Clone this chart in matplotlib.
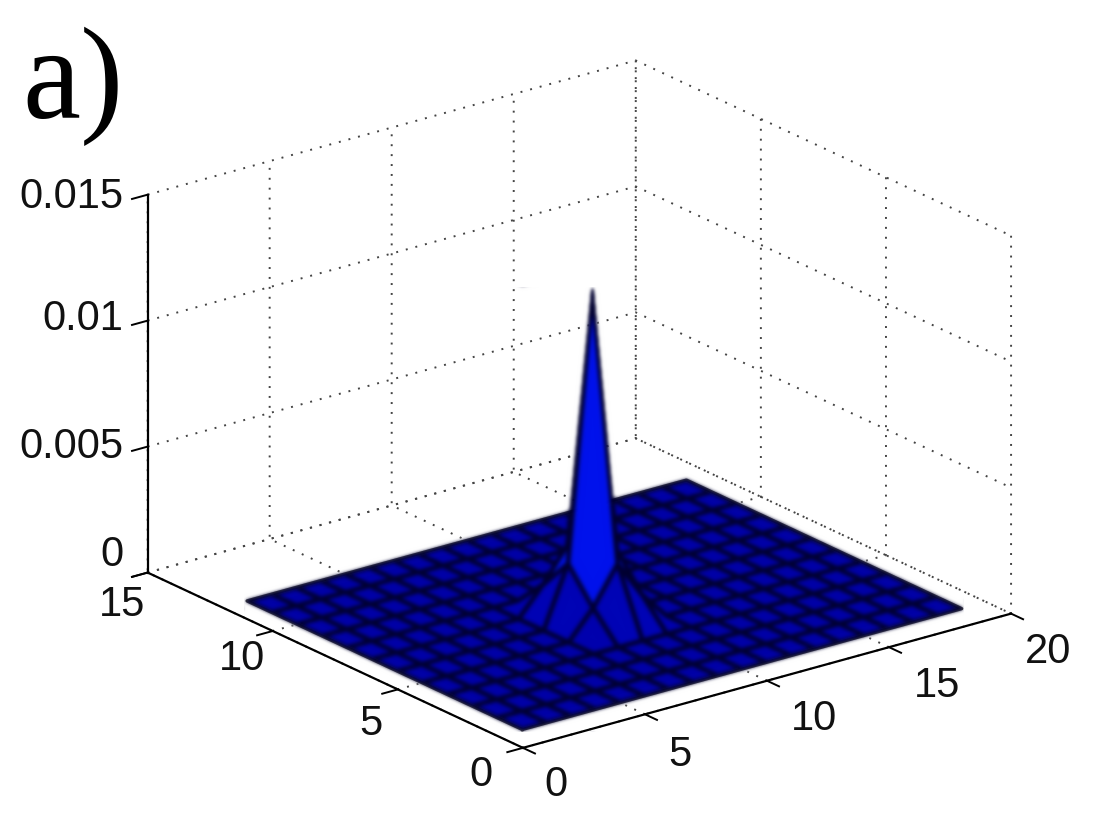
#!/usr/bin/env python3
import matplotlib
matplotlib.use("Agg")
import matplotlib.pyplot as plt
import numpy as np
from matplotlib.colors import LinearSegmentedColormap, Normalize
from mpl_toolkits.mplot3d import proj3d

# surface heights, rows are y = 1..12, columns are x = 1..19
x_vals = list(range(1, 20))
y_vals = list(range(1, 13))
z_row_flat = [0.0] * 19
z_row_5 = [0, 0, 0, 0, 0, 0, 0, 0.0011, 0.0026, 0.0011, 0, 0, 0, 0, 0, 0, 0, 0, 0]
z_row_6 = [0, 0, 0, 0, 0, 0, 0, 0.0024, 0.0130, 0.0024, 0, 0, 0, 0, 0, 0, 0, 0, 0]
z_row_7 = [0, 0, 0, 0, 0, 0, 0, 0.0011, 0.0024, 0.0011, 0, 0, 0, 0, 0, 0, 0, 0, 0]
z_rows = [z_row_flat, z_row_flat, z_row_flat, z_row_flat, z_row_5, z_row_6, z_row_7,
          z_row_flat, z_row_flat, z_row_flat, z_row_flat, z_row_flat]

x_ticks = [0, 5, 10, 15, 20]
y_ticks = [0, 5, 10, 15]
z_ticks = [0, 0.005, 0.01, 0.015]
z_tick_labels = ["0", "0.005", "0.01", "0.015"]

# pixel offsets of the tick labels from their ticks
x_label_shift = [(33, -37), (35, -41), (47, -38), (48, -39), (37, -38)]
y_label_shift = [(-42, -27), (-27, -35), (-31, -28), (-26, -32)]
z_label_shift = [(-24, 18), (-24, 0), (-24, 2), (-24, -2)]

plt.rcParams["font.family"] = ["Liberation Sans", "DejaVu Sans"]
plt.rcParams["grid.linestyle"] = (0, (1, 4.1))
plt.rcParams["grid.linewidth"] = 1.4
plt.rcParams["grid.color"] = "#444444"


def soften(image, dpi):
  # the reference is an upscaled bitmap, so smear the surface a little
  out = image
  for _ in range(4):
    out = (2 * out + np.roll(out, 1, 0) + np.roll(out, -1, 0)) / 4
    out = (2 * out + np.roll(out, 1, 1) + np.roll(out, -1, 1)) / 4
  return out, 0, 0


def tick_label(ax, x, y, z, text, shift, ha="center"):
  px, py, _ = proj3d.proj_transform(x, y, z, ax.get_proj())
  ax.annotate(text, xy=(px, py), xytext=shift, textcoords="offset pixels",
              ha=ha, va="center", fontsize=30, color="#111111", annotation_clip=False)


def main():
  fig = plt.figure(figsize=(11.2, 8.4), dpi=100)
  ax = fig.add_axes([8 / 1120, 4.5 / 840, 1.0, 1.0], projection="3d", proj_type="ortho",
                    computed_zorder=False)
  ax.view_init(elev=21, azim=-127.5)
  ax.set_box_aspect((0.988, 0.99, 0.65), zoom=1.11)

  X, Y = np.meshgrid(x_vals, y_vals)
  Z = np.asarray(z_rows)
  # colour each facet by its highest corner
  top = Z.copy()
  top[:-1, :-1] = np.max([Z[:-1, :-1], Z[1:, :-1], Z[:-1, 1:], Z[1:, 1:]], axis=0)
  cmap = LinearSegmentedColormap.from_list("floor", ["#0000a8", "#0012ec"])
  colors = cmap(Normalize(0, 0.013, clip=True)(top))

  # dark rim of the sheet, under the surface so the spike hides its back edge
  rim_x = [x_vals[0], x_vals[-1], x_vals[-1], x_vals[0], x_vals[0]]
  rim_y = [y_vals[0], y_vals[0], y_vals[-1], y_vals[-1], y_vals[0]]
  ax.plot(rim_x, rim_y, [0] * 5, color="black", linewidth=2.4, zorder=2)

  surf = ax.plot_surface(X, Y, Z, rstride=1, cstride=1, facecolors=colors, shade=False,
                         edgecolor="#000030", linewidth=3.2, antialiased=True, zorder=3)
  surf.set_clip_on(False)
  surf.set_agg_filter(soften)

  ax.set_xlim(0, 20, view_margin=0)
  ax.set_ylim(0, 15, view_margin=0)
  ax.set_zlim(0, 0.015, view_margin=0)
  ax.set_xticks(x_ticks)
  ax.set_yticks(y_ticks)
  ax.set_zticks(z_ticks)
  ax.set_xticklabels([])
  ax.set_yticklabels([])
  ax.set_zticklabels([])

  for axis in (ax.xaxis, ax.yaxis, ax.zaxis):
    axis.set_pane_color((1, 1, 1, 0))
    axis.pane.set_edgecolor((1, 1, 1, 0))
    axis.line.set_color("black")
    axis.line.set_linewidth(1.6)
    axis._axinfo["tick"]["inward_factor"] = 0.4
    axis._axinfo["tick"]["outward_factor"] = 0.0
    axis._axinfo["tick"]["linewidth"] = {True: 1.4, False: 1.0}
    axis._axinfo["tick"]["color"] = "black"

  for tick, shift in zip(x_ticks, x_label_shift):
    tick_label(ax, tick, 0, 0, str(tick), shift)
  for tick, shift in zip(y_ticks, y_label_shift):
    tick_label(ax, 0, tick, 0, str(tick), shift)
  for tick, text, shift in zip(z_ticks, z_tick_labels, z_label_shift):
    tick_label(ax, 0, 15, tick, text, shift, ha="right")

  fig.text(0.02, 0.859, "a)", family="Liberation Serif", fontsize=94, color="black")
  fig.savefig("out.png", dpi=100)


if __name__ == "__main__":
  main()
